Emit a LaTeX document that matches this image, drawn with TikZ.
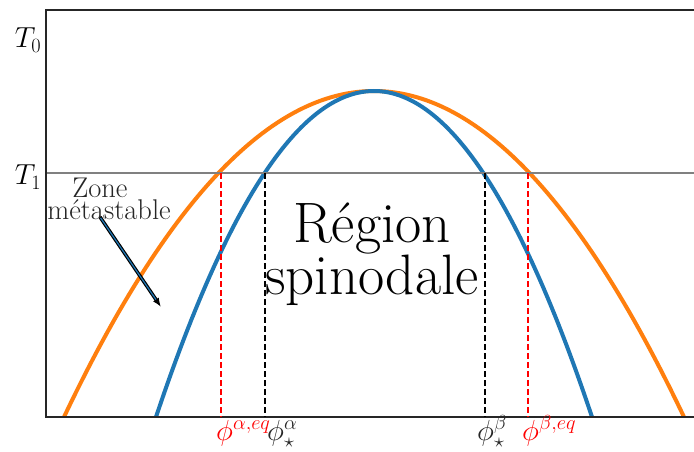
\RequirePackage{fix-cm}
\documentclass[tikz,border=0pt]{standalone}
\usepackage{tikz}
\usetikzlibrary{arrows.meta}
\definecolor{mplblue}{HTML}{1F77B4}
\definecolor{mplorange}{HTML}{FF7F0E}
\definecolor{axisgray}{HTML}{808080}

\begin{document}
\begin{tikzpicture}[x=1pt,y=-1pt,
  spine/.style={line width=1.2pt,black!85},
  curve/.style={line width=4pt},
  vline/.style={line width=1.8pt,dash pattern=on 6pt off 3pt},
  ticklab/.style={inner sep=0pt,font=\fontsize{29}{29}\selectfont},
  philab/.style={inner sep=0pt,anchor=base west,font=\fontsize{29}{29}\selectfont}]
\useasboundingbox (0,0) rectangle (694,452);
% courbes
\begin{scope}
\clip (46,10) rectangle (694,417);
\draw[curve,mplorange] plot[domain=60:692,samples=120] (\x,{91+326*((\x-374)/310)^2});
\draw[curve,mplblue] plot[domain=150:600,samples=120] (\x,{91+326*((\x-374)/218)^2});
\end{scope}
% axes
\draw[axisgray,line width=1.6pt] (46,173) -- (694,173);
\draw[spine] (694,10) -- (46,10) -- (46,417) -- (694,417);
\node[ticklab] (t0) at (28,40) {$T_0$};
\node[ticklab] (t1) at (28,177) {$T_1$};
% binodale et spinodale
\draw[vline,red] (221,173) -- (221,417);
\draw[vline,black] (265,173) -- (265,417);
\draw[vline,black] (485,173) -- (485,417);
\draw[vline,red] (528,173) -- (528,417);
\node[philab,red] (pae) at (216,440) {$\phi^{\alpha,eq}$};
\node[philab,black!85] (psa) at (267,440) {$\phi_\star^{\alpha}$};
\node[philab,black!85] (psb) at (477,440) {$\phi_\star^{\beta}$};
\node[philab,red] (pbe) at (522,440) {$\phi^{\beta,eq}$};
% textes
\node[inner sep=0pt,align=center,font=\fontsize{57}{51}\selectfont] (region) at (372,254) {Région\\spinodale};
\node[inner sep=0pt,align=left,font=\fontsize{28.5}{22}\selectfont,black!85] (zone) at (109,199) {\hspace*{25pt}Zone\\métastable};
\coordinate (tail) at (100,217);
\coordinate (tip) at (161,307);
\draw[line width=3.5pt,-{Latex[length=9pt,width=7pt,fill=mplblue]}] (tail) -- (tip);
\draw[line width=1.2pt,mplblue,shorten >=9pt,shorten <=1pt] (tail) -- (tip);
\end{tikzpicture}
\end{document}
